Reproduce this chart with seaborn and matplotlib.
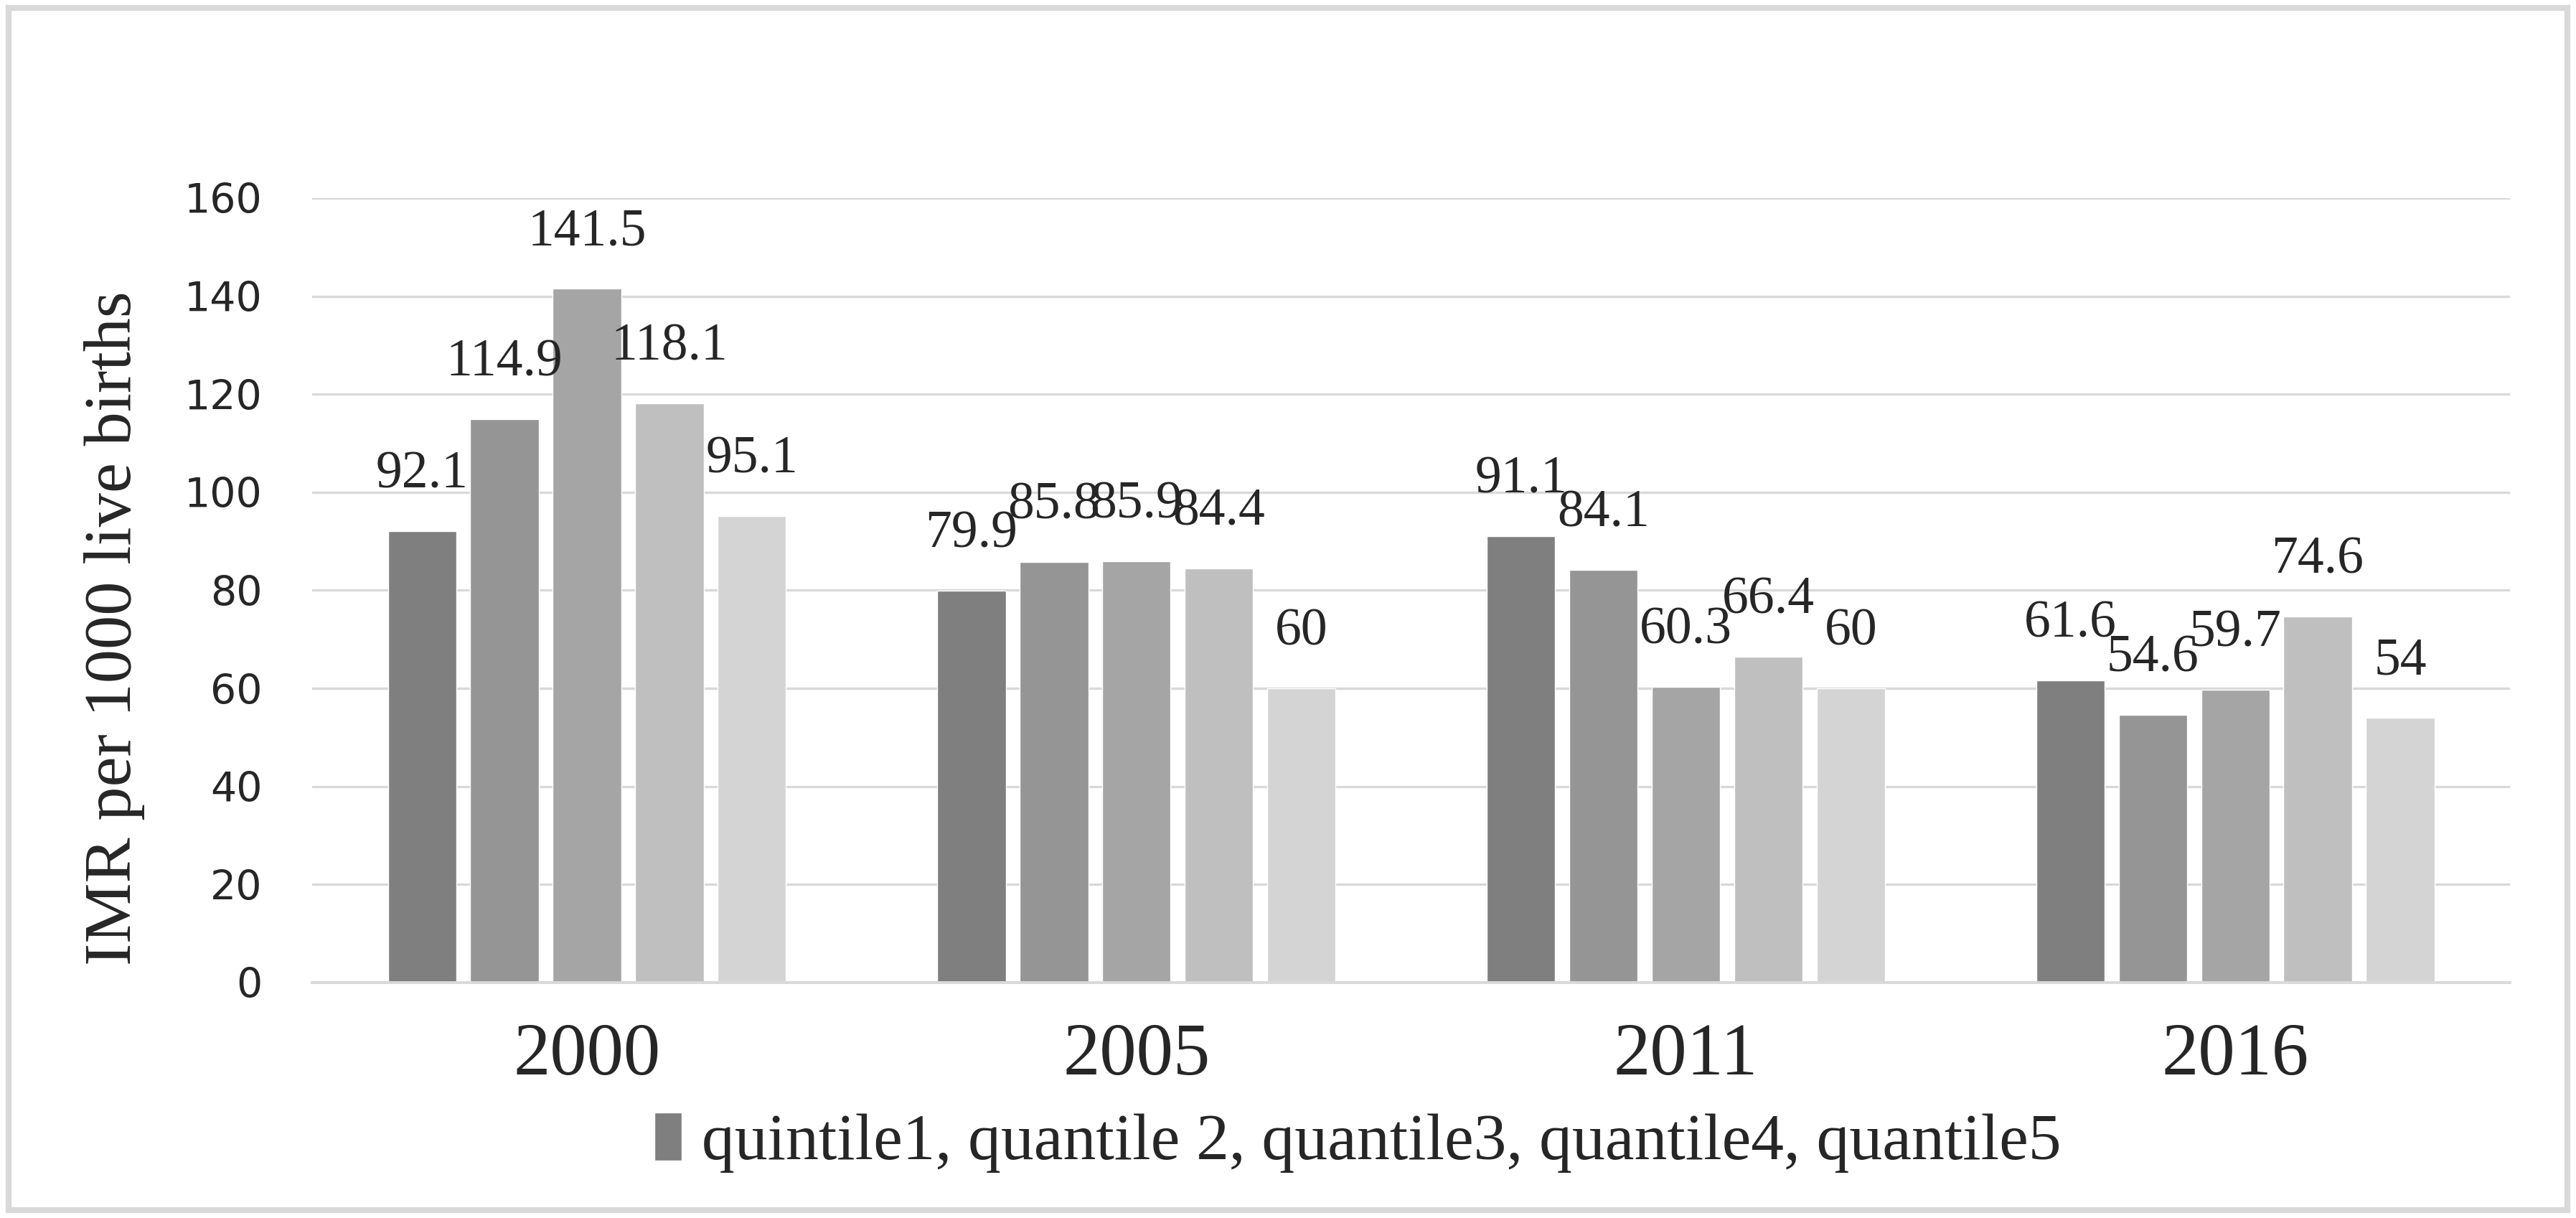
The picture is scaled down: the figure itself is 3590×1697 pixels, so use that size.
import matplotlib
matplotlib.use("Agg")
import matplotlib.pyplot as plt
from matplotlib.patches import Patch, Rectangle
import numpy as np
import pandas as pd
import seaborn as sns

years = ["2000", "2005", "2011", "2016"]
quintiles = ["q1", "q2", "q3", "q4", "q5"]
q1 = [92.1, 79.9, 91.1, 61.6]
q2 = [114.9, 85.8, 84.1, 54.6]
q3 = [141.5, 85.9, 60.3, 59.7]
q4 = [118.1, 84.4, 66.4, 74.6]
q5 = [95.1, 60, 60, 54]
yticks = [0, 20, 40, 60, 80, 100, 120, 140, 160]
colors = ["#7f7f7f", "#959595", "#a5a5a5", "#bfbfbf", "#d4d4d4"]
legend_text = "quintile1, quantile 2, quantile3, quantile4, quantile5"

rows = []
for q, vals in zip(quintiles, [q1, q2, q3, q4, q5]):
    for y, v in zip(years, vals):
        rows.append({"year": y, "quintile": q, "imr": v})
df = pd.DataFrame(rows)

sns.set_style("white")
plt.rcParams["font.family"] = ["Liberation Serif", "DejaVu Sans"]

fig = plt.figure(figsize=(35.9, 16.97), dpi=100)
ax = fig.add_axes([0.1212, 0.1933, 0.8532, 0.6441])

sns.barplot(data=df, x="year", y="imr", hue="quintile", order=years,
            hue_order=quintiles, palette=colors, saturation=1,
            width=0.75, gap=0.17, legend=False, ax=ax)

# value labels above each bar
for cont in ax.containers:
    ax.bar_label(cont, labels=["%g" % b.get_height() for b in cont],
                 padding=32, fontsize=53, family="Liberation Serif")

ax.set_ylim(0, 160)
ax.set_yticks(yticks)
ax.yaxis.grid(True, color="#d9d9d9", linewidth=2.4)
ax.set_axisbelow(True)
for s in ["top", "right", "left"]:
    ax.spines[s].set_visible(False)
ax.spines["bottom"].set_color("#d9d9d9")
ax.spines["bottom"].set_linewidth(2.8)

ax.tick_params(axis="y", length=0, pad=50)
ax.tick_params(axis="x", length=0, pad=40)
for t in ax.get_yticklabels():
    t.set_family("DejaVu Sans")
    t.set_fontsize(41)
for t in ax.get_xticklabels():
    t.set_fontsize(74)

ax.set_xlabel("")
ax.set_ylabel("IMR per 1000 live births", fontsize=68)
ax.yaxis.set_label_coords(-0.076, 0.452)

fig.legend(handles=[Patch(facecolor=colors[0])], labels=[legend_text],
           loc="center", bbox_to_anchor=(0.527, 0.062), frameon=False,
           fontsize=66, handlelength=0.42, handleheight=0.75,
           handletextpad=0.3)

# outer chart border
fig.patches.append(Rectangle((0.0033, 0.0065), 0.9934, 0.987,
                             transform=fig.transFigure, fill=False,
                             edgecolor="#d9d9d9", linewidth=6))

fig.savefig("out.png", dpi=100, facecolor="white")
